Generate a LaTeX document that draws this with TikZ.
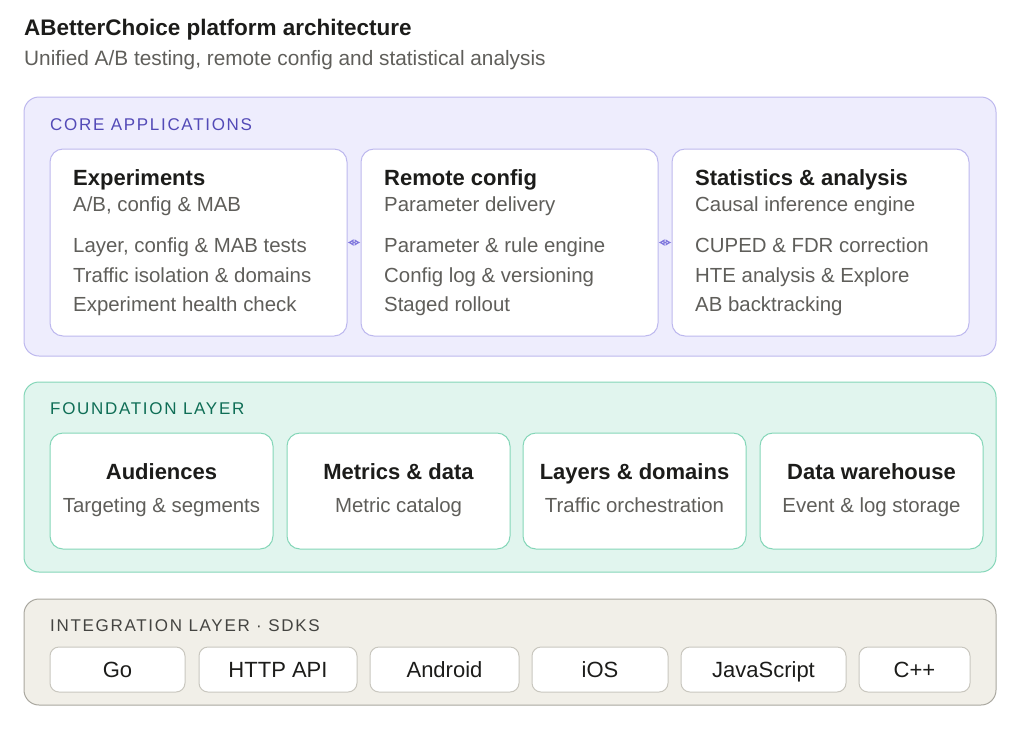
\documentclass[tikz,border=0pt]{standalone}
\usepackage{fontspec}
\setmainfont{Liberation Sans}
\newfontfamily\labelfont[LetterSpace=10]{Liberation Sans}
\usetikzlibrary{arrows.meta}
\definecolor{ink}{HTML}{1C1C1A}
\definecolor{muted}{HTML}{5F5E5A}
\definecolor{corefill}{HTML}{EEEDFD}
\definecolor{coreline}{HTML}{BDB8EE}
\definecolor{corelabel}{HTML}{534AB7}
\definecolor{corearrow}{HTML}{7F77DD}
\definecolor{foundfill}{HTML}{E1F5EE}
\definecolor{foundline}{HTML}{84D6B8}
\definecolor{foundlabel}{HTML}{0F6E56}
\definecolor{intfill}{HTML}{F1EFE8}
\definecolor{intline}{HTML}{A9A79F}
\definecolor{intbox}{HTML}{C9C7BF}
\definecolor{intlabel}{HTML}{444441}
\newcommand{\titlefont}{\fontsize{22.5}{26}\selectfont\bfseries}
\newcommand{\headfont}{\fontsize{22}{26}\selectfont\bfseries}
\newcommand{\bodyfont}{\fontsize{20.4}{24}\selectfont}
\newcommand{\capfont}{\fontsize{17}{20}\selectfont\labelfont}
\begin{document}
\begin{tikzpicture}[x=1pt,y=-1pt,
  panel/.style={rounded corners=15pt, line width=1pt},
  corebox/.style={draw=coreline, fill=white, rounded corners=13pt, line width=1pt,
    minimum width=297pt, minimum height=187pt, inner sep=0pt},
  foundbox/.style={draw=foundline, fill=white, rounded corners=13pt, line width=1pt,
    minimum width=223pt, minimum height=116pt, inner sep=0pt},
  sdkbox/.style={draw=intbox, fill=white, rounded corners=9pt, line width=1pt,
    minimum height=45pt, inner sep=0pt, text height=15.7pt, text depth=0pt,
    font=\fontsize{22}{26}\selectfont, text=ink},
  tag/.style={anchor=base west, inner sep=0pt},
  head/.style={tag, font=\headfont, text=ink},
  line/.style={tag, font=\bodyfont, text=muted},
  link/.style={draw=corearrow, line width=1.2pt,
    {Latex[open,length=6pt,width=7pt]}-{Latex[open,length=6pt,width=7pt]}}]
  \useasboundingbox (0,0) rectangle (1024,729);
  \node[tag, font=\titlefont, text=ink] (title) at (24,35) {ABetterChoice platform architecture};
  \node[tag, font=\fontsize{20.8}{24}\selectfont, text=muted] (subtitle) at (24,65) {Unified A/B testing, remote config and statistical analysis};

  \draw[panel, draw=coreline, fill=corefill] (24,97) rectangle (996,356);
  \node[tag, font=\capfont, text=corelabel] (corecap) at (50,130) {CORE APPLICATIONS};
  \node[corebox] (exp) at (198.5,242.5) {};
  \node[corebox] (rc) at (509.5,242.5) {};
  \node[corebox] (stat) at (820.5,242.5) {};
  \draw[link] (exp.east) -- (rc.west);
  \draw[link] (rc.east) -- (stat.west);

  \node[head] at (73,185) {Experiments};
  \node[line] at (73,211) {A/B, config \& MAB};
  \node[line] at (73,252.5) {Layer, config \& MAB tests};
  \node[line] at (73,282) {Traffic isolation \& domains};
  \node[line] at (73,311) {Experiment health check};

  \node[head] at (384,185) {Remote config};
  \node[line] at (384,211) {Parameter delivery};
  \node[line] at (384,252.5) {Parameter \& rule engine};
  \node[line] at (384,282) {Config log \& versioning};
  \node[line] at (384,311) {Staged rollout};

  \node[head] at (695,185) {Statistics \& analysis};
  \node[line] at (695,211) {Causal inference engine};
  \node[line] at (695,252.5) {CUPED \& FDR correction};
  \node[line] at (695,282) {HTE analysis \& Explore};
  \node[line] at (695,311) {AB backtracking};

  \draw[panel, draw=foundline, fill=foundfill] (24,382) rectangle (996,572);
  \node[tag, font=\capfont, text=foundlabel] (foundcap) at (50,414) {FOUNDATION LAYER};
  \node[foundbox] (aud) at (161.5,491) {};
  \node[foundbox] (met) at (398.5,491) {};
  \node[foundbox] (lay) at (634.5,491) {};
  \node[foundbox] (dw) at (871.5,491) {};
  \node[head, anchor=base] at (aud |- 0,479) {Audiences};
  \node[line, anchor=base] at (aud |- 0,512) {Targeting \& segments};
  \node[head, anchor=base] at (met |- 0,479) {Metrics \& data};
  \node[line, anchor=base] at (met |- 0,512) {Metric catalog};
  \node[head, anchor=base] at (lay |- 0,479) {Layers \& domains};
  \node[line, anchor=base] at (lay |- 0,512) {Traffic orchestration};
  \node[head, anchor=base] at (dw |- 0,479) {Data warehouse};
  \node[line, anchor=base] at (dw |- 0,512) {Event \& log storage};

  \draw[panel, draw=intline, fill=intfill] (24,599) rectangle (996,705);
  \node[tag, font=\capfont, text=intlabel] (intcap) at (50,631) {INTEGRATION LAYER · SDKS};
  \node[sdkbox, minimum width=135pt] (go) at (117.5,669.5) {Go};
  \node[sdkbox, minimum width=158pt] (http) at (278,669.5) {HTTP API};
  \node[sdkbox, minimum width=149pt] (android) at (444.5,669.5) {Android};
  \node[sdkbox, minimum width=136pt] (ios) at (600,669.5) {iOS};
  \node[sdkbox, minimum width=165pt] (js) at (763.5,669.5) {JavaScript};
  \node[sdkbox, minimum width=111pt] (cpp) at (914.5,669.5) {C++};
\end{tikzpicture}
\end{document}
